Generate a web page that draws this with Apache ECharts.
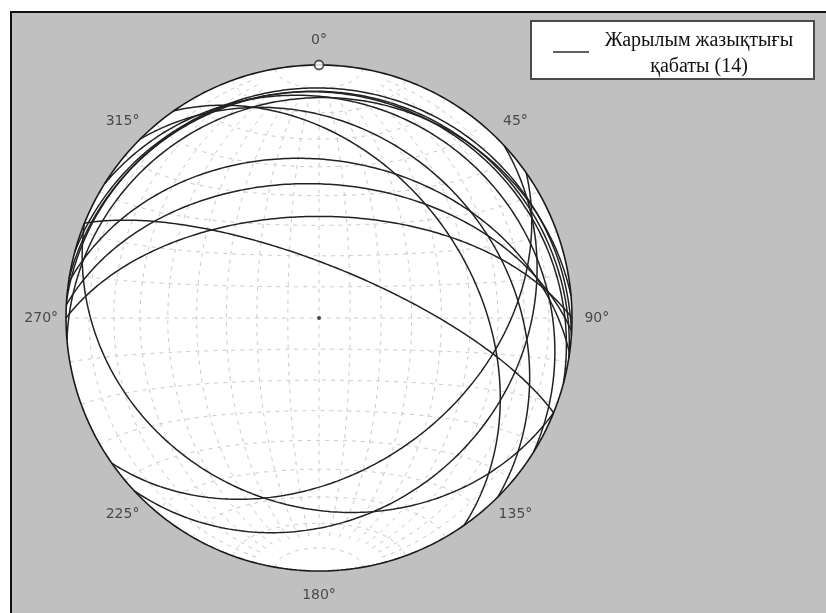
<!DOCTYPE html>
<html>
<head>
<meta charset="utf-8">
<script src="https://cdn.jsdelivr.net/npm/echarts@6/dist/echarts.min.js"></script>
<style>
html,body{margin:0;padding:0;background:#ffffff;}
#chart{width:826px;height:613px;}
</style>
</head>
<body>
<div id="chart"></div>
<script>
// Fracture planes, right-hand-rule strike and dip (degrees)
const planeStrikes = [292, 325, 274, 279, 302, 315, 278, 273, 270, 112, 55, 47, 285, 265];
const planeDips    = [ 73,  39,  10, 11.5, 15.7, 28, 37.5, 46,  57, 26.6, 39, 24, 12, 14];

// Plotted lines (trend, plunge)
const lineTrends  = [0, 0];
const linePlunges = [0, 90];

// Azimuth tick labels around the primitive
const azimuthTicks = [0, 45, 90, 135, 180, 225, 270, 315];

const legendText = 'Жарылым жазықтығы\nқабаты (14)';

const D2R = Math.PI / 180;

// Lower-hemisphere equal-area (Schmidt) projection of a unit vector (north, east, down)
function projectVec(n, e, d) {
  const r = Math.sqrt(Math.max(0, 1 - d));
  const h = Math.sqrt(n * n + e * e);
  if (h < 1e-12) return [0, 0];
  return [r * e / h, r * n / h];
}
function projectLine(trend, plunge) {
  const t = trend * D2R, p = plunge * D2R;
  return projectVec(Math.cos(p) * Math.cos(t), Math.cos(p) * Math.sin(t), Math.sin(p));
}
function greatCircle(strike, dip) {
  const s = strike * D2R, dd = (strike + 90) * D2R, d = dip * D2R;
  const S = [Math.cos(s), Math.sin(s), 0];
  const Dv = [Math.cos(d) * Math.cos(dd), Math.cos(d) * Math.sin(dd), Math.sin(d)];
  const pts = [];
  for (let k = 0; k <= 360; k++) {
    const l = k * 0.5 * D2R;
    const c = Math.cos(l), sn = Math.sin(l);
    pts.push(projectVec(c * S[0] + sn * Dv[0], c * S[1] + sn * Dv[1], c * S[2] + sn * Dv[2]));
  }
  return pts;
}
// Net coordinates: longitude/latitude about the N-S axis
function netPoint(lon, lat) {
  const lo = lon * D2R, la = lat * D2R;
  return projectVec(Math.sin(la), Math.cos(la) * Math.sin(lo), Math.cos(la) * Math.cos(lo));
}

const series = [];

// white disc of the net
series.push({
  type: 'custom', silent: true, z: 1, clip: false,
  data: [[0, 0, 1]],
  renderItem: function (params, api) {
    const c = api.coord([0, 0]);
    const edge = api.coord([1, 0]);
    return { type: 'circle', shape: { cx: c[0], cy: c[1], r: edge[0] - c[0] },
             style: { fill: '#ffffff' } };
  }
});

// grid: meridians and parallels every 10 degrees
const gridStyle = { color: '#c9c9c9', width: 1, type: [4, 5] };
for (let lon = -80; lon <= 80; lon += 10) {
  const pts = [];
  for (let lat = -75; lat <= 75; lat += 1) pts.push(netPoint(lon, lat));
  series.push({ type: 'line', data: pts, symbol: 'none', silent: true, z: 2,
                lineStyle: gridStyle, animation: false });
}
for (let lat = -80; lat <= 80; lat += 10) {
  const pts = [];
  for (let lon = -90; lon <= 90; lon += 1) pts.push(netPoint(lon, lat));
  series.push({ type: 'line', data: pts, symbol: 'none', silent: true, z: 2,
                lineStyle: gridStyle, animation: false });
}

// great circles of the fracture planes
planeStrikes.forEach(function (s, i) {
  series.push({
    name: 'planes', type: 'line', data: greatCircle(s, planeDips[i]),
    symbol: 'none', z: 4, clip: false,
    lineStyle: { color: '#222222', width: 1.5 }, animation: false
  });
});

// primitive circle
const prim = [];
for (let t = 0; t <= 360; t += 1) prim.push(projectLine(t, 0));
series.push({ type: 'line', data: prim, symbol: 'none', silent: true, z: 5, clip: false,
              lineStyle: { color: '#1a1a1a', width: 1.6 }, animation: false });

// plotted lines
series.push({
  type: 'scatter', z: 6, clip: false, silent: true,
  data: [projectLine(lineTrends[0], linePlunges[0])],
  symbol: 'circle', symbolSize: 9,
  itemStyle: { color: '#ffffff', borderColor: '#2a2a2a', borderWidth: 1.8 }
});
series.push({
  type: 'scatter', z: 6, clip: false, silent: true,
  data: [projectLine(lineTrends[1], linePlunges[1])],
  symbol: 'circle', symbolSize: 4,
  itemStyle: { color: '#222222' }
});

// azimuth labels
series.push({
  type: 'scatter', z: 6, clip: false, silent: true, symbolSize: 0,
  data: azimuthTicks.map(function (a) {
    const p = projectLine(a, 0);
    return [p[0] * 1.098, p[1] * 1.098, a + '°'];
  }),
  label: { show: true, position: 'inside', formatter: function (p) { return p.value[2]; },
           fontFamily: 'DejaVu Sans', fontSize: 14, color: '#2b2b2b' }
});

const chart = echarts.init(document.getElementById('chart'), null, { renderer: 'canvas' });
chart.setOption({
  animation: false,
  backgroundColor: '#ffffff',
  grid: { left: 66, top: 65, width: 506, height: 506 },
  xAxis: { type: 'value', min: -1, max: 1, show: false },
  yAxis: { type: 'value', min: -1, max: 1, show: false },
  graphic: [
    { type: 'rect', z: -10, shape: { x: 11, y: 12, width: 830, height: 610 },
      style: { fill: '#c0c0c0', stroke: '#111111', lineWidth: 2 } },
    { type: 'group', z: 20, children: [
      { type: 'rect', shape: { x: 531, y: 21, width: 283, height: 58 },
        style: { fill: '#ffffff', stroke: '#4a4a4a', lineWidth: 2 } },
      { type: 'line', shape: { x1: 553, y1: 52, x2: 589, y2: 52 },
        style: { stroke: '#2a2a2a', lineWidth: 1.4 } },
      { type: 'text', style: { x: 699, y: 28, text: legendText, textAlign: 'center',
        textVerticalAlign: 'top', fill: '#111111', lineHeight: 26,
        font: '20px "Liberation Serif"' } }
    ] }
  ],
  series: series
});
</script>
</body>
</html>
